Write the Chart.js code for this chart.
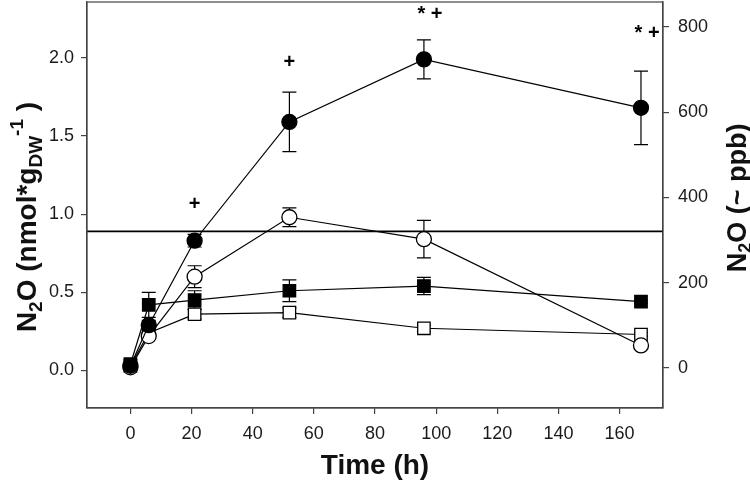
<!DOCTYPE html>
<html>
<head>
<meta charset="utf-8">
<script src="https://cdn.jsdelivr.net/npm/chart.js@4.4.1/dist/chart.umd.min.js"></script>
<style>
  html, body { margin: 0; padding: 0; background: #fff; }
</style>
</head>
<body>
<canvas id="n2oChart" width="750" height="484"></canvas>
<script>
// sampling times (h)
const hours = [0, 6, 21, 52, 96, 167];

// N2O (nmol*gDW-1), mean and error for each treatment
const filledCircle = [0.03, 0.29, 0.83, 1.59, 1.99, 1.68];
const filledCircleErr = [0.02, 0.03, 0.04, 0.19, 0.125, 0.235];
const openCircle = [0.02, 0.22, 0.60, 0.98, 0.84, 0.16];
const openCircleErr = [0.01, 0.02, 0.07, 0.06, 0.12, 0.01];
const filledSquare = [0.04, 0.42, 0.45, 0.51, 0.54, 0.44];
const filledSquareErr = [0.01, 0.08, 0.06, 0.07, 0.055, 0.01];
const openSquare = [0.03, 0.24, 0.36, 0.37, 0.27, 0.23];
const openSquareErr = [0.01, 0.02, 0.03, 0.03, 0.02, 0.01];

// ambient level, right axis (ppb)
const ambientPpb = 320;

// significance marks
const markHours = [21, 52, 98, 169];
const markValues = [1.06, 1.97, 2.28, 2.155];
const markText = ['+', '+', '* +', '* +'];

// axes
const xRange = [-14.2, 174.2];
const xTicks = [0, 20, 40, 60, 80, 100, 120, 140, 160];
const leftRange = [-0.24, 2.357];
const leftTicks = [0, 0.5, 1.0, 1.5, 2.0];
const rightRange = [-94.5, 858.6];
const rightTicks = [0, 200, 400, 600, 800];

const pts = function(ys) {
  return hours.map((h, i) => ({ x: h, y: ys[i] }));
};

const series = function(ys, errs, style, fill, radius) {
  return {
    data: pts(ys),
    errors: errs,
    yAxisID: 'y',
    borderColor: '#000',
    borderWidth: 1.2,
    pointStyle: style,
    pointRadius: radius,
    pointBackgroundColor: fill,
    pointBorderColor: '#000',
    pointBorderWidth: 1.3,
    tension: 0,
    fill: false
  };
};

const errorBars = {
  id: 'errorBars',
  beforeDatasetsDraw(chart) {
    const ctx = chart.ctx;
    const xs = chart.scales.x, ys = chart.scales.y;
    ctx.save();
    ctx.strokeStyle = '#000';
    ctx.lineWidth = 1.2;
    chart.data.datasets.forEach(ds => {
      if (!ds.errors) return;
      ds.data.forEach((p, i) => {
        const e = ds.errors[i];
        const px = xs.getPixelForValue(p.x);
        const top = ys.getPixelForValue(p.y + e);
        const bot = ys.getPixelForValue(p.y - e);
        ctx.beginPath();
        ctx.moveTo(px, top); ctx.lineTo(px, bot);
        ctx.moveTo(px - 7, top); ctx.lineTo(px + 7, top);
        ctx.moveTo(px - 7, bot); ctx.lineTo(px + 7, bot);
        ctx.stroke();
      });
    });
    ctx.restore();
  }
};

// draws bold text made of pieces with sub / superscripts, centred on 0
const richText = function(ctx, parts, size) {
  let total = 0;
  parts.forEach(p => {
    ctx.font = 'bold ' + Math.round(size * (p.s || 1)) + 'px "Liberation Sans", Arial, sans-serif';
    p.w = ctx.measureText(p.t).width;
    total += p.w;
  });
  let x = -total / 2;
  parts.forEach(p => {
    ctx.font = 'bold ' + Math.round(size * (p.s || 1)) + 'px "Liberation Sans", Arial, sans-serif';
    ctx.fillText(p.t, x, (p.dy || 0) * size);
    x += p.w;
  });
};

const decorations = {
  id: 'decorations',
  afterDraw(chart) {
    const ctx = chart.ctx;
    const a = chart.chartArea;
    ctx.save();
    // frame
    ctx.strokeStyle = '#444';
    ctx.lineWidth = 1.2;
    ctx.strokeRect(a.left, a.top, a.right - a.left, a.bottom - a.top);

    // significance marks
    ctx.fillStyle = '#000';
    ctx.font = 'bold 20px "Liberation Sans", Arial, sans-serif';
    ctx.textAlign = 'center';
    ctx.textBaseline = 'middle';
    markText.forEach((t, i) => {
      ctx.fillText(t, chart.scales.x.getPixelForValue(markHours[i]), chart.scales.y.getPixelForValue(markValues[i]));
    });

    ctx.textAlign = 'left';
    ctx.textBaseline = 'alphabetic';
    ctx.fillStyle = '#111';

    // left title
    ctx.save();
    ctx.translate(36, 217);
    ctx.rotate(-Math.PI / 2);
    richText(ctx, [
      { t: 'N' }, { t: '2', s: 0.68, dy: 0.2 }, { t: 'O (nmol*g' },
      { t: 'DW', s: 0.68, dy: 0.2 }, { t: '-1', s: 0.68, dy: -0.45 }, { t: ' )' }
    ], 28);
    ctx.restore();

    // right title
    ctx.save();
    ctx.translate(746, 198);
    ctx.rotate(-Math.PI / 2);
    richText(ctx, [
      { t: 'N' }, { t: '2', s: 0.68, dy: 0.2 }, { t: 'O (~ ppb)' }
    ], 27);
    ctx.restore();

    // x title
    ctx.save();
    ctx.translate((a.left + a.right) / 2, 474);
    richText(ctx, [{ t: 'Time (h)' }], 28);
    ctx.restore();

    ctx.restore();
  }
};

const axisGrid = { display: true, drawOnChartArea: false, drawTicks: true, tickLength: 6, color: '#444', lineWidth: 1.2 };
const tickFont = { family: '"Liberation Sans", Arial, sans-serif', size: 18 };

const fitVertical = s => { s.width = 87; s.paddingTop = 0; s.paddingBottom = 0; };

new Chart(document.getElementById('n2oChart'), {
  type: 'line',
  data: {
    datasets: [
      series(filledCircle, filledCircleErr, 'circle', '#000', 7.5),
      series(openCircle, openCircleErr, 'circle', '#fff', 7.5),
      series(filledSquare, filledSquareErr, 'rect', '#000', 8.8),
      series(openSquare, openSquareErr, 'rect', '#fff', 8.8),
      {
        data: [{ x: xRange[0], y: ambientPpb }, { x: xRange[1], y: ambientPpb }],
        yAxisID: 'y1',
        borderColor: '#000',
        borderWidth: 1.8,
        pointRadius: 0,
        fill: false
      }
    ]
  },
  options: {
    responsive: false,
    animation: false,
    layout: { autoPadding: false, padding: { top: 2, left: 0, right: 0, bottom: 0 } },
    plugins: { legend: { display: false }, tooltip: { enabled: false } },
    scales: {
      x: {
        type: 'linear',
        position: 'bottom',
        min: xRange[0],
        max: xRange[1],
        afterBuildTicks: s => { s.ticks = xTicks.map(v => ({ value: v })); },
        afterFit: s => { s.height = 76; s.paddingLeft = 0; s.paddingRight = 0; },
        grid: axisGrid,
        border: { display: true, color: '#444', width: 1.2 },
        ticks: { font: tickFont, color: '#1a1a1a', padding: 9, maxRotation: 0 }
      },
      y: {
        type: 'linear',
        position: 'left',
        min: leftRange[0],
        max: leftRange[1],
        afterBuildTicks: s => { s.ticks = leftTicks.map(v => ({ value: v })); },
        afterFit: fitVertical,
        grid: axisGrid,
        border: { display: true, color: '#444', width: 1.2 },
        ticks: { font: tickFont, color: '#1a1a1a', padding: 7, callback: v => v.toFixed(1) }
      },
      y1: {
        type: 'linear',
        position: 'right',
        min: rightRange[0],
        max: rightRange[1],
        afterBuildTicks: s => { s.ticks = rightTicks.map(v => ({ value: v })); },
        afterFit: fitVertical,
        grid: axisGrid,
        border: { display: true, color: '#444', width: 1.2 },
        ticks: { font: tickFont, color: '#1a1a1a', padding: 9 }
      }
    }
  },
  plugins: [errorBars, decorations]
});
</script>
</body>
</html>
